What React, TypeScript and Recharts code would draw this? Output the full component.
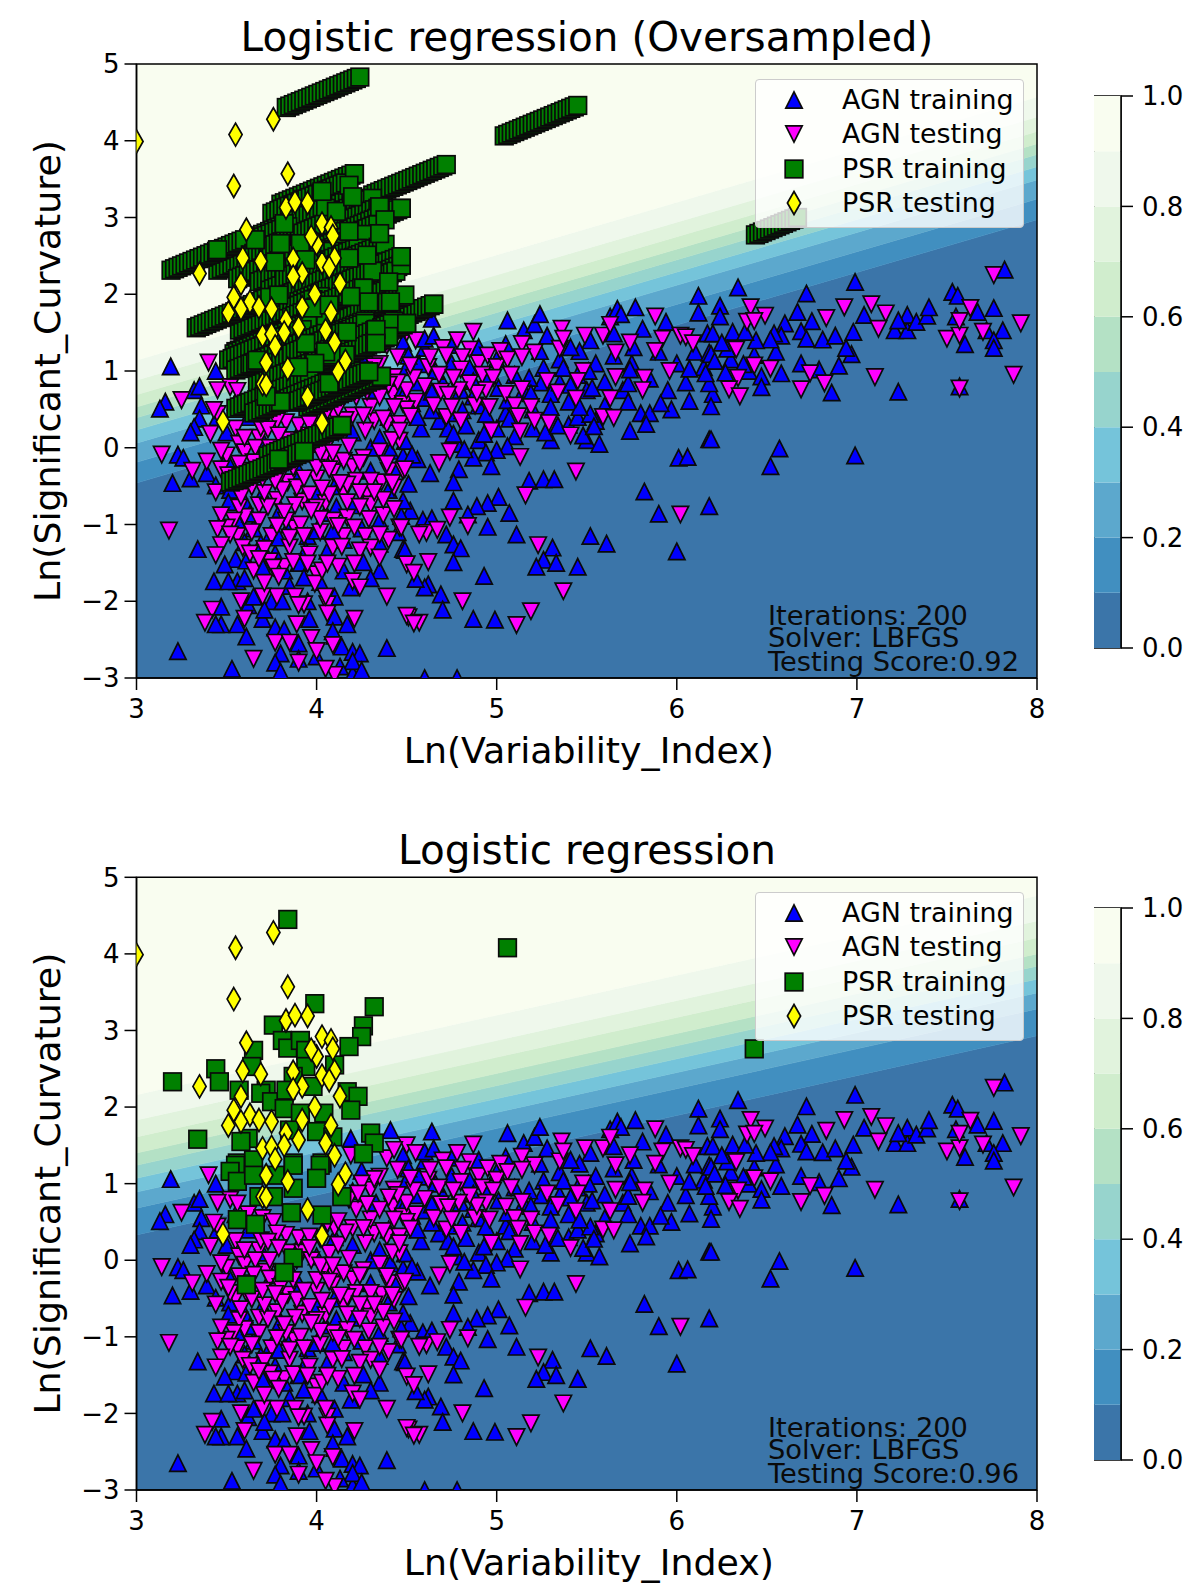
import React from 'react';
import { ComposedChart, BarChart, Bar, Area, Scatter, XAxis, YAxis, ReferenceArea } from 'recharts';

type Pt = number[];
const FONT = '"DejaVu Sans", sans-serif';

const xTicks = [3, 4, 5, 6, 7, 8];
const yTicks = [-3, -2, -1, 0, 1, 2, 3, 4, 5];
const cbTicks = [0, 0.2, 0.4, 0.6, 0.8, 1];
const seriesNames = ['AGN training', 'AGN testing', 'PSR training', 'PSR testing'];

const bandColors = ['#3b75a9', '#418fc0', '#5ca8cd', '#75c4da', '#97d4cd', '#b4e1c5', '#d0edcd', '#e1f3dd', '#eff8ec', '#f9fdf0'];
const bandShares = [0.1, 0.1, 0.1, 0.1, 0.1, 0.1, 0.1, 0.1, 0.1, 0.1];
const topBandAt3 = [-0.46, -0.19, 0.06, 0.23, 0.39, 0.53, 0.69, 0.88, 1.14];
const topBandAt8 = [2.97, 3.24, 3.49, 3.66, 3.82, 3.96, 4.12, 4.31, 4.57];
const botBandAt3 = [0.33, 0.68, 0.89, 1.07, 1.24, 1.4, 1.61, 1.83, 2.16];
const botBandAt8 = [2.93, 3.28, 3.49, 3.67, 3.84, 4.0, 4.21, 4.43, 4.76];

const agnTrainingRaw: Pt[] = [
[3.55,.6],[3.62,.4],[3.7,.1],[3.75,-.2],[3.85,-.1],[3.9,.2],[4,.05],[4.1,.3],[4.2,.2],[4.3,0],[4.4,.4],[4.33,.75],[4.2,.9],[3.6,-.3],[3.5,.2],[3.45,.4],[3.52,-.55],[3.6,-.7],[3.7,-.6],[3.8,-.8],[3.9,-.3],[4,-.6],[4.1,-.5],[4.2,-.75],[4.3,-.3],[4.4,-.55],[4.45,-.25],[3.65,-1.05],[3.75,-1.1],[3.85,-1],[3.95,-1.15],[4.05,-.85],[4.15,-1.2],[4.25,-1.05],[4.35,-.95],[3.55,-1.45],[3.7,-1.55],[3.82,-1.6],[3.9,-1.5],[4.02,-1.75],[4.15,-1.6],[4.35,-1.6],[4.45,-1.1],[3.62,-2.05],[3.75,-2],[3.95,-2],[4.1,-2.45],[3.9,-2.55],
[4.5,1.05],[4.55,.85],[4.6,.65],[4.7,.85],[4.75,1.1],[4.8,.75],[4.9,.55],[4.95,.95],[5,1.15],[5.05,.45],[5.1,.95],[5.15,.75],[5.2,.5],[5.25,.85],[5.3,.7],[5.35,.85],[5.4,.6],[5.45,.95],[5.5,.75],[5.55,1.1],[5.6,.55],[5.65,1.2],[5.7,.75],[5.75,1.1],[5.8,.45],[5.85,.9],[5.9,1.25],[5.95,.75],[6,1.1],[6.05,.85],[6.1,1.25],[6.15,1.05],[6.2,.7],[4.58,.25],[4.68,.35],[4.78,.05],[4.9,.1],[5,.25],[5.1,.15],[5.2,.25],[5.3,.1],[5.4,.3],[5.5,.1],[4.6,1.3],[4.75,.45],[5.05,1.35],[5.35,1.15],[5.55,.35],[5.85,.45],[6.4,1],[6.55,1.25],[6.3,1.15],
[3.19,1.06],[3.16,.6],[3.13,.51],[3.32,.75],[3.35,.8],[3.44,1],[3.36,.55],[3.35,.38],[3.32,.27],[3.3,.2],[3.23,-.09],[3.26,-.13],[3.2,-.46],[3.3,-.4],[3.39,-.33],[3.44,-.49],[3.5,-.15],[3.51,-.71],[3.56,-.95],[3.63,-.86],[3.6,-1.23],[3.77,-1.38],[3.34,-1.32],[3.49,-1.52],[3.43,-1.74],[3.56,-1.74],[3.6,-1.7],[3.51,-1.74],[3.65,-1.94],[3.81,-2],[3.85,-1.8],[3.47,-2.07],[3.47,-2.3],[3.44,-2.3],[3.56,-2.3],[3.61,-2.46],[3.7,-2.23],[3.71,-2.11],[3.77,-2.34],[3.82,-2.37],[3.96,-2.23],[4.1,-1.94],[4.1,-2.2],[4.17,-2.3],[4.09,-2.39],[4.14,-2.59],[4.39,-2.61],[3.23,-2.65],[3.8,-2.68],[4.2,-2.66],[4.24,-2.68],[3.93,-1.69],[4.06,-1.34],[3.94,-1.34],[4,-1.08],[4.09,-1.08],[4.11,-.77],[3.93,-.64],[3.79,-1.17],[3.69,-1.25],[3.61,-1.47],[4.19,-1.82],[4.3,-1.7],[4.26,-1.49],[4.35,-1.25],[4.48,-1.32],[4.52,-.82],[4.41,-.04],[4.35,.13],[4.47,.75],[4.25,1.17],[4.48,-.11],
[3.53,-2.88],[3.77,-2.8],[3.8,-2.92],[3.9,-2.75],[4,-2.72],[4.2,-2.95],[4.2,-2.78],[4.25,-2.9],[4.13,-2.85],[4.6,-3],[4.78,-3],[4.19,1.59],[4.41,1.7],[4.48,1.37],
[4.64,1.68],[4.6,1.42],[4.65,1.46],[4.75,1.34],[4.9,1.31],[5.06,1.66],[5.15,1.53],[5.21,1.61],[5.24,1.74],[5.28,1.46],[5.63,1.71],[5.67,1.81],[5.69,1.74],[5.77,1.83],[5.81,1.55],[5.94,1.64],[6.12,1.98],[6.12,1.76],[6.17,1.49],[6.07,1.03],[6.18,1.24],[6.07,.61],[5.97,.5],[5.91,.58],[5.73,.6],[5.73,.84],[5.74,1.02],[5.76,1.31],[5.65,1.49],[5.52,1.4],[5.46,1.26],[5.41,1.31],[5.51,1],[5.6,.86],[5.53,.78],[5.45,.4],[5.52,.44],[5.57,.05],[5.48,.16],[5.74,.22],[5.83,.31],[6.01,-.13],[6.06,-.12],[5.54,.28],[5.27,.2],[5.34,.29],[5.06,.02],[5,-.03],[4.94,-.06],[4.87,-.13],[4.82,-.02],[4.97,-.24],[4.79,-.28],[4.63,-.33],[4.56,-.15],[4.51,-.47],[4.76,-.45],[5.18,-.43],[5.26,-.41],[5.32,-.41],[5.01,-.64],[4.95,-.72],[4.89,-.76],[4.76,-.69],[4.84,-.87],[5.07,-.85],[4.95,-1.03],[5.11,-1.13],[4.72,-1.13],[4.59,-.94],[4.64,-.92],[4.76,-1.26],[4.8,-1.31],[4.76,-1.49],[4.49,-1.33],[4.47,-.89],[4.48,-.69],[5.31,-1.3],[5.26,-1.46],[5.33,-1.5],[5.22,-1.55],[5.45,-1.55],[5.52,-1.15],[5.61,-1.25],[5.82,-.57],[5.9,-.86],[6,-1.35],[6.18,-.76],[6.18,.11],[4.93,-1.67],[4.69,-1.91],[4.62,-1.78],[4.6,-1.82],[4.7,-2.11],[4.87,-2.23],[4.99,-2.24],[4.55,-1.71],
[4.64,.73],[4.73,.25],[4.76,.18],[4.66,1],[4.57,1.09],[4.51,1.2],[4.85,1.04],[4.87,.87],[4.87,.67],[4.81,.49],[4.83,.29],[5.01,.78],[5.06,.62],[4.94,.44],[4.93,.18],[5.07,.38],[5.18,.91],[5.19,.71],[5.26,1.04],[5.3,.53],[5.24,1.26],[5.37,1.04],[5.41,.82],[5.46,.53],[4.64,.49],[4.56,.4],[4.53,.58],[4.48,.67],[4.49,.09],[4.53,-.09],
[6.34,2.09],[6.24,1.85],[6.24,1.71],[6.72,2.01],[6.67,1.77],[6.6,1.62],[6.99,2.16],[6.75,1.65],[6.69,1.52],[6.58,1.46],[6.54,1.49],[6.52,1.41],[6.72,1.42],[6.81,1.41],[6.88,1.46],[6.98,1.51],[7.04,1.73],[7.21,1.53],[7.28,1.53],[7.28,1.73],[7.23,1.66],[7.33,1.64],[7.39,1.72],[7.4,1.83],[7.53,2.03],[7.56,1.98],[7.55,1.71],[7.67,1.77],[7.76,1.82],[7.82,2.32],[7.81,1.53],[7.72,1.53],[7.76,1.4],[7.76,1.3],[7.6,1.35],[7.57,.8],[7.23,.73],[6.86,.72],[6.9,1.07],[6.97,1.22],[6.94,1.3],[6.79,1.02],[6.69,1.1],[6.58,.97],[6.47,.93],[6.47,.79],[6.43,1.21],[6.44,1.4],[6.37,1.09],[6.31,1.51],[6.28,1.29],[6.27,.98],[6.2,1.49],[6.19,1.22],[6.21,1.13],[6.25,1.37],[6.18,.84],[6.16,.97],[6.19,.54],[6.19,.11],[6.57,-.01],[6.99,-.1],[6.52,-.24],[6.38,1.51],
];

const agnTestingRaw: Pt[] = [
[3.5,-.1],[3.55,.25],[3.62,.6],[3.7,.55],[3.76,.5],[3.84,.1],[3.92,.1],[4.02,.28],[4.1,.42],[4.2,.42],[4.32,.35],[4.42,.7],[3.55,-.5],[3.62,-.3],[3.72,-.15],[3.84,-.45],[3.92,-.7],[4,-.4],[4.1,-.2],[4.2,-.25],[4.35,-.05],[4.4,-.3],[3.6,-.9],[3.68,-.75],[3.78,-.68],[3.88,-.75],[4.05,-.72],[4.15,-.6],[4.28,-.6],[4.36,-.45],[3.56,-1.15],[3.75,-1.15],[3.88,-1.05],[4.02,-1.1],[4.15,-1.15],[4.27,-1.15],[3.65,-1.6],[3.82,-1.55],[4.12,-1.55],[4.3,-1.3],[4.4,-1.2],
[3.45,.44],[3.52,.79],[3.56,.74],[3.57,.05],[3.6,-.06],[3.68,.13],[3.66,0],[3.9,.29],[3.89,0],[3.81,-.19],[3.97,0],[4.07,.09],[4.15,-.17],[4.04,-.13],[4.09,-.32],[4.22,-.43],[4,-.26],[3.87,-.26],[3.74,-.24],[3.65,-.19],[3.61,-.43],[3.52,-.43],[3.47,-.28],[3.57,-.21],[3.8,-.35],[3.89,-.52],[3.96,-.61],[4.07,-.61],[4.17,-.48],[4.3,-.43],[4.26,-.13],[4.39,-.21],[4.46,.09],[4.39,.31],[4.3,.53],[4.22,.66],[4.48,.57],[4.35,.66],[4.43,.92],[4.3,.92],[4.35,1.09],[4.18,.79],[4.06,.48],[3.96,.31],[3.83,.33],[3.78,.35],[3.69,.26],[3.57,-.78],[3.68,-.95],[3.83,-.95],[3.91,-1],[4,-.78],[4.09,-.95],[4.17,-.91],[4.3,-.74],[4.43,-.52],[3.54,-.95],[3.5,-1.04],[3.59,-1.3],[3.74,-1.48],[3.85,-1.3],[3.96,-1.39],[4.09,-1.3],[4.35,-1.13],[4.46,-1.04],[4.5,-1.52],[4.2,-1.74],[3.93,-2.04],[4.06,-2.04],[3.89,-2.3],[3.76,-1.56],[4,-1.65],
[4.5,1.5],[4.55,1.4],[4.62,1.05],[4.68,.95],[4.7,1.3],[4.78,1.4],[4.85,1.28],[4.9,1.1],[4.95,1.2],[4.6,.8],[4.55,.6],[4.65,.55],[4.72,.4],[4.8,.35],[4.88,.55],[4.92,.95],[5,1.05],[5.05,.7],[5.1,.55],[4.5,.75],[4.45,.85],[4.5,.5],[4.42,.1],
[3.4,1.11],[3.25,.62],[3.14,-.09],[3.18,-1.08],[3.31,-.3],[3.39,-.18],[3.41,.18],[3.43,.49],[3.45,.75],[3.47,-.04],[3.51,-.36],[3.44,-.58],[3.47,-.88],[3.45,-1.06],[3.52,-1.13],[3.47,-1.27],[3.44,-1.4],[3.42,-2.11],[3.38,-2.28],[3.58,-.64],[3.6,.13],[3.64,-1.1],[3.73,-.77],[3.82,-.84],[3.78,-1.02],[3.71,-1.32],[3.63,-1.38],[3.68,-1.45],[3.85,-1.17],[3.93,-1.15],[4.02,-.93],[3.97,-.82],[4.12,-1.02],[4.21,-1.04],[4.29,-.93],[4.37,-.88],[4.43,-.8],[4.37,-.68],[4.32,-.58],[4.24,-.58],[4.17,-.71],[4.24,-.77],[4.13,-.46],[4.03,-.53],[3.93,-.4],[3.81,-.55],[3.71,-.59],[3.64,-.51],[3.7,-.4],[3.77,-.44],[3.74,0],[3.73,.24],[3.79,.16],[3.96,.16],[4.02,-.07],[4.09,-.07],[4.18,.02],[4.24,-.2],[4.07,-.28],[4.12,.2],[4.27,.22],[4.37,.38],[4.46,.31],[4.43,.53],[4.26,.42],[4.16,.36],[4.12,.51],[4.4,.82],[4.45,1.18],[4.32,1.06],[4.25,1],[4.28,.73],[4.23,.87],[4.42,-.46],[4.48,-.3],[4.14,-1.29],[4.24,-1.34],[4.35,-1.43],[4.24,-1.82],[4.39,-1.94],[4.51,-2.21],[4.21,-2.23],[4.06,-2.16],[4.05,-1.94],[3.88,-1.94],[3.9,-2.05],[3.78,-1.94],[3.7,-1.94],[3.58,-2],[3.6,-2.23],[3.77,-2.54],[3.85,-2.54],[3.97,-2.48],[4.09,-2.57],[4,-2.65],[3.99,-1.77],[3.79,-1.68],[3.71,-1.76],[3.87,-1.49],[3.95,-1.51],[4.03,-1.6],[4.21,-1.51],[4.06,-1.51],
[3.65,-2.75],[3.9,-2.8],[4.1,-2.96],[4.05,-2.88],[4.39,1.33],[4.43,1.44],[4.19,1.37],
[4.87,1.51],[4.63,1.18],[4.72,1.2],[4.81,1.18],[4.8,1.02],[4.98,.91],[5.02,1.26],[5.06,1.15],[5.08,.95],[5.14,1.35],[5.21,1.24],[5.14,1.18],[5.28,.87],[5.35,1.29],[5.36,1.55],[5.37,1.42],[5.49,1.46],[5.59,1.46],[5.63,1.6],[5.66,1.24],[5.74,1.37],[5.88,1.71],[5.92,1.42],[5.88,1.26],[6.02,1.46],[6.05,1.44],[6.09,1.36],[5.96,1],[5.82,.91],[5.81,.75],[5.66,.92],[5.63,.64],[5.48,1],[5.45,.87],[5.44,.64],[5.34,.72],[5.19,.53],[5.14,.76],[4.96,.53],[4.94,.75],[4.89,.71],[4.85,.84],[4.79,.75],[4.69,.73],[4.76,.91],[4.73,.69],[4.75,.53],[4.54,.91],[4.52,1.07],[4.52,.41],[5.12,.41],[5.21,.35],[5.29,.32],[5.13,.21],[4.97,.22],[5.41,.16],[5.59,.4],[5.65,.39],[4.74,-.05],[4.68,-.2],[5.13,-.12],[4.49,-.28],[5.44,-.31],[5.16,-.62],[4.74,-.91],[4.84,-1.02],[4.61,-1.11],[4.67,-1.07],[4.57,-1.13],[5.23,-1.27],[4.62,-1.49],[4.54,-1.63],[4.81,-2],[5.19,-2.13],[5.11,-2.31],[5.37,-1.87],[6.02,-.87],[4.46,.22],[4.5,-2.19],[4.57,-2.28],[4.54,-2.29],[4.47,-1.04],
[6.41,1.83],[6.49,1.72],[6.39,1.64],[6.43,1.65],[6.33,1.28],[6.43,1.07],[6.52,1.03],[6.34,.91],[6.29,.76],[6.35,.67],[6.69,.76],[6.74,.97],[6.82,.84],[7.1,.92],[6.83,1.69],[6.93,1.83],[7.08,1.87],[7.16,1.75],[7.12,1.55],[7.5,1.42],[7.57,1.46],[7.57,1.65],[7.63,1.82],[7.7,1.51],[7.76,2.25],[7.91,1.62],[7.87,.95],[7.57,.77],
];

const psrTestingRaw: Pt[] = [
[3,3.99],[3.76,4.28],[3.55,4.08],[3.84,3.57],[3.54,3.41],[3.83,3.13],[3.88,3.2],[3.95,3.19],[3.61,2.84],[4.03,2.92],[4.08,2.87],[4.09,2.76],[4,2.66],[3.97,2.75],[3.59,2.47],[3.69,2.43],[3.35,2.27],[3.87,2.46],[4.1,2.47],[4.03,2.41],[4.07,2.35],[3.92,2.27],[3.87,2.23],[4.13,2.14],[3.58,2.14],[3.99,2],[3.54,1.96],[3.63,1.9],[3.68,1.83],[3.51,1.76],[3.58,1.81],[3.75,1.81],[3.92,1.83],[4.08,1.76],[3.83,1.66],[3.9,1.57],[4.05,1.53],[3.7,1.46],[3.75,1.48],[3.82,1.5],[4.1,1.37],[3.77,1.32],[3.72,1.11],[3.84,1.03],[4.16,1.13],[4.12,.99],[3.7,.83],[3.72,.82],[3.95,.66],[3.48,.34],[4.03,.32],
];

const psrTrainingPlainRaw: Pt[] = [
[3.84,4.45],[5.06,4.08],[6.43,2.76],[3.99,3.35],[4.32,3.31],[4.26,3.06],[4.25,2.92],[3.76,3.07],[3.81,2.87],[3.84,2.77],[3.91,2.87],[3.94,2.74],[4.18,2.79],[3.65,2.74],[3.44,2.5],[3.46,2.33],[3.2,2.33],[3.64,2.53],[3.94,2.53],[4.1,2.55],[3.87,2.4],[3.72,2.22],[3.57,2.22],[3.69,2.18],[3.75,2.07],[3.83,2.22],[3.98,2.27],[4.17,2.2],[4.23,2.14],[3.82,1.98],[4.19,1.96],[4.04,1.92],[3.91,1.92],[4,1.68],[3.62,1.59],[3.58,1.55],[3.34,1.58],[4.3,1.66],[4.32,1.53],[3.85,1.7],[4.09,1.61],[4.26,1.39],[3.56,1.27],[3.65,1.31],[3.87,1.27],[4.03,1.27],[3.55,1.24],[3.52,1.16],[3.56,1.03],[3.65,1.11],[3.77,1.11],[3.87,1.24],[3.87,.94],[4.02,1.24],[4,1.07],[4.14,.83],[3.76,.83],[3.68,.83],[3.86,.62],[3.56,.53],[3.66,.47],[4.03,.59],[3.87,.03],[3.82,-.16],[3.61,-.32],
];

const psrTrainingRunHeadsRaw: Pt[] = [
[4.24,4.83],[5.45,4.46],[4.21,3.57],[4.72,3.69],[4.16,3.45],[4.21,3.25],[4.24,3.15],[4.31,3.25],[4.34,3.12],[4.47,3.12],[4.05,3.12],[3.84,2.88],[3.86,2.71],[3.6,2.71],[4.04,2.91],[4.34,2.91],[4.27,2.78],[4.12,2.6],[3.97,2.6],[4.09,2.56],[4.15,2.45],[4.23,2.6],[4.38,2.65],[4.47,2.49],[4.47,2.38],[4.22,2.36],[4.44,2.3],[4.31,2.3],[4.4,2.06],[4.02,1.97],[3.98,1.93],[3.74,1.96],[4.65,1.87],[4.25,2.08],[4.49,1.99],[4.5,1.62],[3.96,1.65],[4.05,1.69],[4.27,1.65],[4.43,1.65],[3.95,1.62],[3.92,1.54],[3.96,1.41],[4.05,1.49],[4.17,1.49],[4.27,1.62],[4.27,1.32],[4.42,1.62],[4.4,1.45],[4.36,.93],[4.16,1.21],[4.08,1.21],[4.26,1],[3.96,.91],[4.06,.85],[4.29,.99],[4.14,.29],[3.93,-.05],
];

const psrTrainingShortRunHeadsRaw: Pt[] = [[6.67, 3.0]];

const psrTrainingOnTopRaw: Pt[] = [
[4.21,3.57],[4.03,3.34],[4.18,3.42],[4.11,3.08],[4.2,3.27],[4.35,3.14],[4.47,3.12],[4.38,2.97],[4.18,2.82],[4.35,2.79],[4.47,2.38],[4.47,2.49],[4.18,2.47],[4.28,2.51],[3.77,2.42],[3.8,2.66],[3.66,2.71],[3.45,2.58],[3.82,2.92],[3.91,2.66],[3.94,2.45],[4.4,2.16],[4.26,2.08],[4.19,1.97],[4.41,1.9],[4.65,1.87],[4.5,1.62],[4.17,1.51],[4.33,1.54],[3.98,1.82],[4.07,1.86],[3.79,1.99],[4.29,1.9],[4.33,1.36],[3.94,1.36],[4.05,1.25],[3.99,1.1],[3.9,1.05],[3.67,1.14],[4.36,.93],[4.29,.99],[4.07,.84],[3.8,.6],[3.72,.67],[4.14,.29],[3.93,-.05],[3.79,-.15],
];

const toRows = (pts: Pt[]) => pts.map(([x, y]) => ({ x, y }));
const agnTraining = toRows(agnTrainingRaw);
const agnTesting = toRows(agnTestingRaw);
const psrTesting = toRows(psrTestingRaw);
const psrPlain = toRows(psrTrainingPlainRaw);
const psrHeads = toRows(psrTrainingRunHeadsRaw);
const psrShortHeads = toRows(psrTrainingShortRunHeadsRaw);
const psrOnTop = toRows(psrTrainingOnTopRaw);

const bandRows = (at3: number[], at8: number[]) =>
  [[3, at3], [8, at8]].map(([x, edges]: any) => {
    const row: any = { x };
    bandColors.forEach((_, i) => {
      row['b' + i] = [i === 0 ? -3 : edges[i - 1], i === bandColors.length - 1 ? 5 : edges[i]];
    });
    return row;
  });

const EDGE = { stroke: '#0a0a0a', strokeWidth: 1.7, strokeLinejoin: 'miter' as const };

const up = (p: any) => <path d={`M${p.cx} ${p.cy - 8.2}L${p.cx + 8.2} ${p.cy + 8.2}L${p.cx - 8.2} ${p.cy + 8.2}Z`} fill="#0000ff" {...EDGE} />;
const down = (p: any) => <path d={`M${p.cx} ${p.cy + 8.2}L${p.cx + 8.2} ${p.cy - 8.2}L${p.cx - 8.2} ${p.cy - 8.2}Z`} fill="#ff00ff" {...EDGE} />;
const square = (p: any) => <rect x={p.cx - 8.8} y={p.cy - 8.8} width={17.6} height={17.6} fill="#008000" {...EDGE} />;
const diamond = (p: any) => <path d={`M${p.cx} ${p.cy - 11.5}L${p.cx + 6.6} ${p.cy}L${p.cx} ${p.cy + 11.5}L${p.cx - 6.6} ${p.cy}Z`} fill="#ffff00" {...EDGE} />;

// one oversampled run: a stack of squares that trails off below and to the left of its head
const makeRun = (count: number) => {
  const steps = Array.from({ length: count }, (_, i) => count - i);
  return (p: any) => (
    <g>
      {steps.map((s) => (
        <rect key={s} x={p.cx - 8.8 - s * 3.5} y={p.cy - 8.8 + s * 1.45} width={17.6} height={17.6} fill="#008000" {...EDGE} />
      ))}
      <rect x={p.cx - 8.8} y={p.cy - 8.8} width={17.6} height={17.6} fill="#008000" {...EDGE} />
    </g>
  );
};
const run = makeRun(21);
const shortRun = makeRun(12);

const glyphs = [up, down, square, diamond];
const AXIS = { stroke: '#000', strokeWidth: 1.5 };
const TICK = { fontSize: 26, fill: '#000', fontFamily: FONT };
const minus = (v: number) => (v < 0 ? '\u2212' + -v : String(v));

function Colorbar({ top }: { top: number }) {
  const row: any = { name: 'p' };
  bandShares.forEach((v, i) => (row['c' + i] = v));
  return (
    <div style={{ position: 'absolute', left: 1094, top: top - 20 }}>
      <BarChart width={106} height={552 + 40} data={[row]} margin={{ top: 20, right: 0, bottom: 20, left: 0 }} barCategoryGap={0}>
        <XAxis hide dataKey="name" type="category" />
        <YAxis orientation="right" type="number" domain={[0, 1]} ticks={cbTicks} width={79} tickSize={12} tickMargin={9}
          tick={TICK} axisLine={AXIS} tickLine={AXIS} interval={0} tickFormatter={(v: number) => v.toFixed(1)} />
        {bandColors.map((c, i) => (
          <Bar key={c} dataKey={'c' + i} stackId="p" fill={c} isAnimationActive={false} />
        ))}
        <ReferenceArea y1={0} y2={1} fill="none" stroke="#000" strokeWidth={1.5} ifOverflow="visible" />
      </BarChart>
    </div>
  );
}

function LegendBox({ top }: { top: number }) {
  return (
    <div style={{ position: 'absolute', left: 755, top, width: 269, height: 149, background: 'rgba(255,255,255,0.8)', border: '1px solid #ccc', borderRadius: 4, boxSizing: 'border-box', fontFamily: FONT, fontSize: 26.9, color: '#000' }}>
      {seriesNames.map((n, i) => (
        <div key={n} style={{ position: 'absolute', left: 0, top: 3 + i * 34.4, height: 34, lineHeight: '34px', whiteSpace: 'nowrap' }}>
          <svg width={60} height={34} style={{ position: 'absolute', left: 8, top: 0 }}>{glyphs[i]({ cx: 30, cy: 17 })}</svg>
          <span style={{ position: 'absolute', left: 86 }}>{n}</span>
        </div>
      ))}
    </div>
  );
}

function Notes({ bottom, score }: { bottom: number; score: string }) {
  const note = { x: 768, fontSize: 27.3, fontFamily: FONT, fill: '#0a0a0a' };
  return (
    <svg width={1200} height={1594} style={{ position: 'absolute', left: 0, top: 0, pointerEvents: 'none' }}>
      <text {...note} y={bottom - 53}>Iterations: 200</text>
      <text {...note} y={bottom - 31}>Solver: LBFGS</text>
      <text {...note} y={bottom - 7}>{score}</text>
    </svg>
  );
}

function Panel(props: any) {
  const { offsetTop, height, plotTop, plotBottom, title, at3, at8, oversampled } = props;
  return (
    <div style={{ position: 'absolute', left: 0, top: offsetTop }}>
      <ComposedChart width={1200} height={height} data={bandRows(at3, at8)} margin={{ top: plotTop, right: 163, bottom: 0, left: 0 }}>
        <XAxis dataKey="x" type="number" domain={[3, 8]} ticks={xTicks} allowDataOverflow height={height - plotBottom} tickSize={12} tickMargin={10}
          tick={TICK} axisLine={AXIS} tickLine={AXIS} interval={0}
          label={{ value: 'Ln(Variability_Index)', position: 'insideTop', offset: 59, dx: 2, fontSize: 36.3, fill: '#000', fontFamily: FONT }} />
        <YAxis dataKey="y" type="number" domain={[-3, 5]} ticks={yTicks} allowDataOverflow width={136.5} tickSize={12} tickMargin={5}
          tick={TICK} axisLine={AXIS} tickLine={AXIS} interval={0} tickFormatter={minus}
          label={{ value: 'Ln(Significant_Curvature)', angle: -90, position: 'insideLeft', offset: 47, fontSize: 36.3, fill: '#000', fontFamily: FONT, style: { textAnchor: 'middle' } }} />
        {bandColors.map((c, i) => (
          <Area key={c} dataKey={'b' + i} type="linear" fill={c} fillOpacity={1} stroke={c} strokeWidth={0.5} dot={false} activeDot={false} legendType="none" isAnimationActive={false} />
        ))}
        <Scatter name={seriesNames[0]} data={agnTraining} shape={up} isAnimationActive={false} />
        <Scatter name={seriesNames[1]} data={agnTesting} shape={down} isAnimationActive={false} />
        {oversampled
          ? <Scatter name={seriesNames[2]} data={psrHeads} shape={run} isAnimationActive={false} />
          : <Scatter name={seriesNames[2]} data={psrPlain} shape={square} isAnimationActive={false} />}
        {oversampled ? <Scatter name={seriesNames[2]} data={psrShortHeads} shape={shortRun} legendType="none" isAnimationActive={false} /> : null}
        {oversampled ? <Scatter name={seriesNames[2]} data={psrOnTop} shape={square} legendType="none" isAnimationActive={false} /> : null}
        <Scatter name={seriesNames[3]} data={psrTesting} shape={diamond} isAnimationActive={false} />
        <ReferenceArea x1={3} x2={8} y1={-3} y2={5} fill="none" stroke="#000" strokeWidth={1.5} ifOverflow="visible" />
        <text x={587} y={plotTop - 13} textAnchor="middle" fontSize={40.5} fontFamily={FONT} fill="#000">{title}</text>
      </ComposedChart>
    </div>
  );
}

export default function App() {
  return (
    <div style={{ position: 'absolute', left: 0, top: 0, width: 1200, height: 1594, background: '#fff', overflow: 'hidden' }}>
      <Panel offsetTop={0} height={800} plotTop={64} plotBottom={678} title="Logistic regression (Oversampled)" at3={topBandAt3} at8={topBandAt8} oversampled />
      <Notes bottom={678} score="Testing Score:0.92" />
      <LegendBox top={79} />
      <Colorbar top={95.6} />
      <Panel offsetTop={800} height={794} plotTop={77.3} plotBottom={690} title="Logistic regression" at3={botBandAt3} at8={botBandAt8} oversampled={false} />
      <Notes bottom={1490} score="Testing Score:0.96" />
      <LegendBox top={892} />
      <Colorbar top={908} />
    </div>
  );
}
